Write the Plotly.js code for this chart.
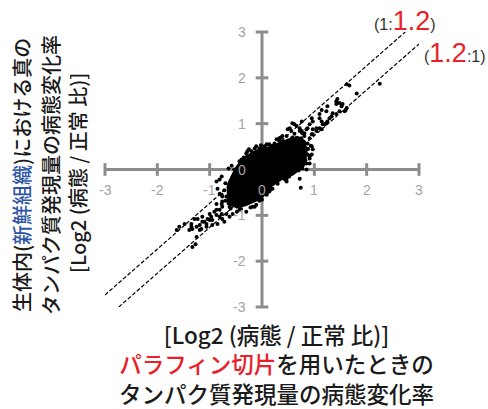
<!DOCTYPE html>
<html>
<head>
<meta charset="utf-8">
<script src="https://cdn.plot.ly/plotly-3.0.1.min.js"></script>
<style>html,body{margin:0;padding:0;background:#fff;}#chart{width:488px;height:409px;}</style>
</head>
<body>
<div id="chart"></div>
<script>
// Axis ticks
var tickVals = [-3, -2, -1, 0, 1, 2, 3];
var tickLabels = ['-3', '-2', '-1', '0', '1', '2', '3'];

// Fold-change ratio for the guide lines (1:1.2 and 1.2:1)
var ratio = 1.2;

// Saturated dense core of the cloud (outline, log2 units)
var coreX = [-0.66,-0.66,-0.56,-0.45,-0.30,-0.10,0.10,0.30,0.50,0.68,0.82,0.86,0.80,0.62,0.37,0.18,0.00,-0.10,-0.30,-0.50];
var coreY = [-0.77,-0.33,-0.09,0.12,0.30,0.42,0.48,0.56,0.66,0.72,0.62,0.35,0.07,-0.09,-0.22,-0.37,-0.62,-0.68,-0.78,-0.84];

// Individual proteins (x: paraffin section, y: fresh tissue)
var pointX = [1.62,1.67,1.81,2.25,1.44,1.48,1.42,1.54,1.62,1.58,1.48,1.42,1.60,1.52,1.42,1.25,1.23,1.14,1.10,1.35,
  1.33,1.29,1.25,1.23,1.20,0.95,0.97,0.91,0.87,0.85,0.97,1.04,1.10,1.14,0.58,0.66,0.72,0.76,0.77,0.95,
  0.97,0.91,0.81,0.66,0.68,1.10,1.14,1.16,1.04,0.95,0.91,0.81,0.95,0.85,0.87,0.74,0.91,0.85,0.72,0.47,
  0.49,0.39,0.72,0.81,0.56,0.62,0.76,0.53,0.97,
  -0.77,-0.81,-0.87,-0.85,-0.81,-0.76,-0.77,-0.76,-0.81,-0.91,-0.87,-0.97,-1.00,-1.04,-1.14,-1.06,-0.95,-0.76,-0.72,-1.16,
  -1.23,-1.29,-1.35,-1.39,-1.48,-1.58,-1.63,-1.25,-1.27,-0.81,-1.00,-1.10,-1.19,-1.25,-1.33,-1.19,-1.06,-0.95,-0.85,-1.14,
  -1.35,-1.33,-0.87,-0.77,-0.68,-0.62,-0.87,-0.76,
  -0.11,-0.05,-0.14,-0.30,-0.39,-0.43,-0.53,0.09,0.28,0.33,0.47,0.05,0.14,0.24,0.33,-0.28,-0.14,
  0.87,0.91,0.85,0.77,0.58,0.47,0.30,0.20,0.09,0.00,-0.11,-0.14,-0.30,-0.43,-0.56,-0.62,-0.18,-0.30,0.01,0.14,
  -0.68,-0.77,-0.70,-0.72,-0.60,
  -0.47,-0.35,-0.20,0.02,0.20,0.40,0.58,0.75,0.88,0.83,0.70,0.52,0.28,0.10,-0.05,-0.22,-0.40,-0.60,-0.70,
  -0.25,-0.02,0.36,0.62,0.93,0.44,0.16,-0.48,-0.64,-0.58];
var pointY = [1.86,1.83,1.66,1.87,1.54,1.45,1.49,1.43,1.34,1.27,1.27,1.21,1.30,1.38,1.43,1.38,1.27,1.30,1.21,1.23,
  1.16,1.12,1.05,1.01,0.99,1.12,1.05,0.99,0.90,0.88,0.88,0.84,0.90,0.88,1.01,0.95,0.90,0.84,0.79,0.51,
  0.44,0.29,0.18,0.68,0.62,1.12,1.05,0.99,0.90,0.77,0.68,0.79,0.33,0.46,0.57,-0.40,0.13,0.00,-0.20,-0.26,
  0.88,0.73,0.84,0.73,0.84,0.99,1.05,0.90,0.77,
  -0.15,-0.22,-0.26,-0.42,-0.53,-0.59,-0.75,-0.81,-0.88,-0.92,-0.99,-1.03,-0.97,-1.08,-1.14,-1.19,-1.10,-1.08,-1.14,-1.30,
  -1.08,-1.08,-1.25,-1.32,-1.19,-1.25,-1.32,-1.47,-1.63,-1.03,-1.10,-1.14,-1.21,-1.25,-1.30,-1.32,-1.25,-1.21,-1.19,-1.03,
  -1.19,-1.69,-0.88,-0.97,-0.97,-0.81,-0.75,-0.70,
  0.51,0.46,0.33,0.35,0.22,0.18,0.00,0.55,0.66,0.68,0.73,0.51,0.55,0.57,0.62,0.40,0.46,
  0.33,0.24,0.13,0.02,-0.09,-0.20,-0.31,-0.42,-0.55,-0.66,-0.77,-0.81,-0.92,-0.88,-0.97,-1.03,-0.81,-0.70,-0.46,-0.48,
  -0.59,-0.55,-0.30,-0.45,-0.25,
  0.05,0.26,0.40,0.46,0.52,0.62,0.70,0.68,0.45,0.20,-0.02,-0.15,-0.28,-0.50,-0.68,-0.83,-0.86,-0.85,-0.68,
  0.44,0.53,0.70,0.78,0.52,-0.22,-0.44,-0.92,0.02,0.08];

var AX = '#8c8c8c';
var LBL = '#a3a3a3';
var FONT = 'Liberation Sans, Arial, Noto Sans CJK JP, sans-serif';
var JP = 'Noto Sans CJK JP, Liberation Sans, sans-serif';
var RED = '#e8202a';
var BLUE = '#2f56a6';

var off = Math.log(ratio) / Math.LN2;
var lo = tickVals[0], hi = tickVals[tickVals.length - 1];

var traces = [
  {x: [lo, hi], y: [0, 0], mode: 'lines', line: {color: AX, width: 3}, hoverinfo: 'skip', cliponaxis: false},
  {x: [0, 0], y: [lo, hi], mode: 'lines', line: {color: AX, width: 3}, hoverinfo: 'skip', cliponaxis: false},
  {x: tickVals, y: tickVals.map(function(){return 0;}), mode: 'markers', cliponaxis: false, hoverinfo: 'skip',
   marker: {symbol: 'line-ns', size: 9, line: {color: AX, width: 3}}},
  {x: tickVals.map(function(){return 0;}), y: tickVals, mode: 'markers', cliponaxis: false, hoverinfo: 'skip',
   marker: {symbol: 'line-ew', size: 9, line: {color: AX, width: 3}}},
  {x: [lo, hi - off], y: [lo + off, hi], mode: 'lines', line: {color: '#000', width: 1.2, dash: '4px,2px'}, hoverinfo: 'skip'},
  {x: [lo + off, hi], y: [lo, hi - off], mode: 'lines', line: {color: '#000', width: 1.2, dash: '4px,2px'}, hoverinfo: 'skip'},
  {x: coreX, y: coreY, mode: 'lines', fill: 'toself', fillcolor: '#000', line: {color: '#000', width: 1.5}, hoverinfo: 'skip'},
  {x: pointX, y: pointY, mode: 'markers', marker: {color: '#000', size: 4}, cliponaxis: false}
];

var annotations = [];
tickVals.forEach(function(v, i) {
  annotations.push({x: v, y: 0, xref: 'x', yref: 'y', text: tickLabels[i], showarrow: false,
    xanchor: 'center', yanchor: 'middle', yshift: -20, font: {family: FONT, size: 14, color: LBL}});
  annotations.push({x: 0, y: v, xref: 'x', yref: 'y', text: tickLabels[i], showarrow: false,
    xanchor: 'right', yanchor: 'middle', xshift: -14, font: {family: FONT, size: 14, color: LBL}});
});

// plot area: l=105, t=32, w=314, h=275
function px(p) { return (p - 105) / 314; }
function py(p) { return (307 - p) / 275; }

annotations.push({xref: 'paper', yref: 'paper', x: px(372), y: py(21), xanchor: 'left', yanchor: 'middle', showarrow: false,
  text: '(1:<span style="color:' + RED + ';font-size:27px">1.2</span>)', font: {family: FONT, size: 16, color: '#333'}});
annotations.push({xref: 'paper', yref: 'paper', x: px(488), y: py(53), xanchor: 'right', yanchor: 'middle', showarrow: false,
  text: '(<span style="color:' + RED + ';font-size:27px">1.2</span>:1)', font: {family: FONT, size: 16, color: '#333'}});

var yT = [
  {t: '生体内(<span style="color:' + BLUE + '">新鮮組織</span>)における真の', x: 21, y: 175},
  {t: 'タンパク質発現量の病態変化率', x: 50, y: 175},
  {t: '[Log2 (病態 / 正常 比)]', x: 77, y: 173}
];
yT.forEach(function(o) {
  annotations.push({xref: 'paper', yref: 'paper', x: px(o.x), y: py(o.y), xanchor: 'center', yanchor: 'middle',
    showarrow: false, textangle: -90, text: o.t, font: {family: JP, size: 20, weight: 500, color: '#1a1a1a'}});
});

annotations.push({xref: 'paper', yref: 'paper', x: px(276), y: py(363), xanchor: 'center', yanchor: 'middle',
  showarrow: false,
  text: '[Log2 (病態 / 正常 比)]<br><span style="color:' + RED + '">パラフィン切片</span>を用いたときの<br>タンパク質発現量の病態変化率',
  font: {family: JP, size: 22.5, weight: 500, color: '#1a1a1a'}});

var layout = {
  width: 488, height: 409,
  margin: {l: 105, r: 69, t: 32, b: 102, pad: 0},
  paper_bgcolor: '#fff', plot_bgcolor: 'rgba(0,0,0,0)',
  showlegend: false,
  xaxis: {range: [lo, hi], visible: false, fixedrange: true},
  yaxis: {range: [lo, hi], visible: false, fixedrange: true},
  annotations: annotations
};

Plotly.newPlot('chart', traces, layout, {staticPlot: true, displayModeBar: false});
</script>
</body>
</html>
